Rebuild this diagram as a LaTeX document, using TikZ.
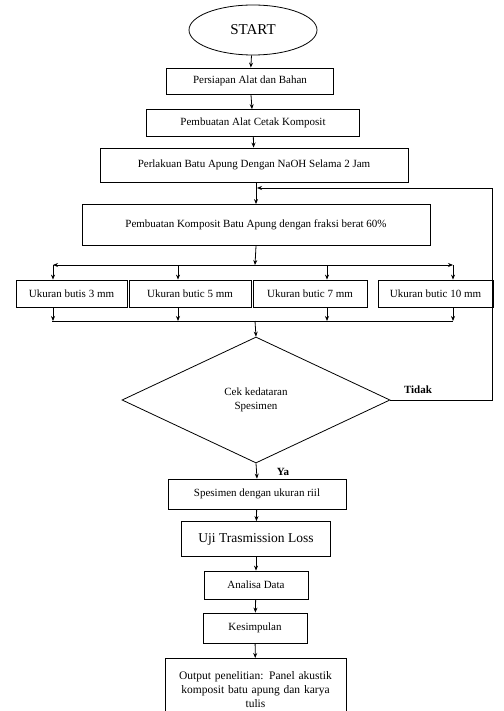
\documentclass[tikz,border=0pt]{standalone}
\usepackage{fontspec}
\setmainfont{Liberation Serif}
\usetikzlibrary{shapes.geometric,arrows.meta}

\tikzset{
  box/.style={draw,thick,rectangle,inner sep=2pt,font=\fontsize{11}{13}\selectfont},
  terminal/.style={draw,thick,ellipse,minimum width=128pt,minimum height=50pt,font=\fontsize{15}{17}\selectfont},
  decision/.style={draw,thick,diamond,minimum width=268pt,minimum height=126pt,inner sep=0pt,align=center,font=\fontsize{11}{14}\selectfont},
  lbl/.style={font=\fontsize{11}{13}\selectfont\bfseries},
  >={Stealth[length=5pt,width=4pt]}
}

\begin{document}
\begin{tikzpicture}[x=1pt,y=-1pt,thick]
  \useasboundingbox (0,0) rectangle (503,711);
  % main column
  \node[terminal] (start) at (253,30) {START};
  \node[box,minimum width=167pt,minimum height=26pt] (persiapan) at (250,81) {Persiapan Alat dan Bahan};
  \node[box,minimum width=213pt,minimum height=27pt] (cetak) at (253,123) {Pembuatan Alat Cetak Komposit};
  \node[box,minimum width=308pt,minimum height=34pt] (naoh) at (254,165) {Perlakuan Batu Apung Dengan NaOH Selama 2 Jam};
  \node[box,minimum width=348pt,minimum height=41pt] (komposit) at (256,225) {Pembuatan Komposit Batu Apung dengan fraksi berat 60\%};
  % grain sizes
  \node[box,minimum width=111pt,minimum height=27pt] (u3) at (71.5,293.5) {Ukuran butis 3 mm};
  \node[box,minimum width=122pt,minimum height=27pt] (u5) at (190,293.5) {Ukuran butic 5 mm};
  \node[box,minimum width=114pt,minimum height=27pt] (u7) at (310,293.5) {Ukuran butic 7 mm};
  \node[box,minimum width=115pt,minimum height=27pt] (u10) at (435.5,293.5) {Ukuran butic 10 mm};
  \node[decision] (cek) at (256,400) {Cek kedataran\\Spesimen};
  \node[box,minimum width=178pt,minimum height=30pt] (riil) at (257,494) {Spesimen dengan ukuran riil};
  \node[box,minimum width=149pt,minimum height=35pt,font=\fontsize{13.5}{15}\selectfont] (uji) at (256,539) {Uji Trasmission Loss};
  \node[box,minimum width=104pt,minimum height=28pt] (analisa) at (256,585) {Analisa Data};
  \node[box,minimum width=104pt,minimum height=30pt] (kesimpulan) at (255,628) {Kesimpulan};
  \node[box,anchor=north,text width=177pt,align=center,minimum height=62pt,font=\fontsize{11.5}{14}\selectfont] (output) at (255.5,658)
    {Output penelitian: Panel akustik\\komposit batu apung dan karya\\tulis};
  \node[lbl] (tidak) at (418,390) {Tidak};
  \node[lbl] (ya) at (283,472) {Ya};

  \coordinate (split) at (255,265);
  \coordinate (merge) at (255,321);
  \coordinate (join) at (257,188);

  \draw[->] (start) -- (persiapan);
  \draw[->] (persiapan) -- (cetak);
  \draw[->] (cetak) -- (naoh);
  \draw[->] (naoh.south -| komposit.north) -- (komposit.north);
  \draw[->] (cek.east) -- ++(102,0) |- (join);
  \draw[->] (komposit.south) -- (split);
  \draw[<->] (53,265) -- (453,265);
  \foreach \x/\b in {53/u3,178/u5,327/u7,453/u10} {
    \draw[->] (\x,265) -- (\x,0 |- \b.north);
    \draw[->] (\x,0 |- \b.south) -- (\x,321);
  }
  \draw (52,321) -- (453,321);
  \draw[->] (merge) -- (cek.north);
  \draw[->] (cek.south) -- (riil.north);
  \draw[->] (riil) -- (uji);
  \draw[->] (uji) -- (analisa);
  \draw[->] (analisa) -- (kesimpulan);
  \draw[->] (kesimpulan) -- (output);
\end{tikzpicture}
\end{document}
